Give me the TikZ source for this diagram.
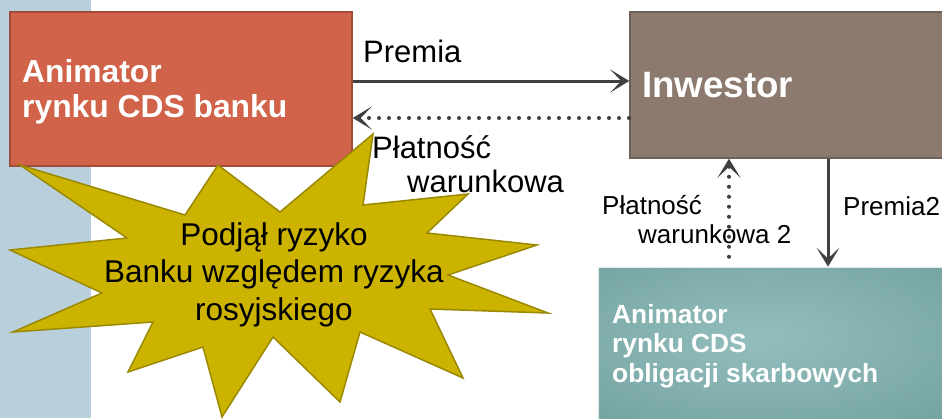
\documentclass[tikz,border=0pt]{standalone}
\usepackage{fontspec}
\setmainfont{Liberation Sans}
\usetikzlibrary{arrows.meta}
\definecolor{stripblue}{HTML}{B9D0DC}
\definecolor{bankred}{HTML}{D06349}
\definecolor{bankedge}{HTML}{A24B39}
\definecolor{invbrown}{HTML}{8C7A6F}
\definecolor{invedge}{HTML}{6F6058}
\definecolor{tealin}{HTML}{92BFBD}
\definecolor{tealout}{HTML}{6D9B99}
\definecolor{starfill}{HTML}{CCB300}
\definecolor{staredge}{HTML}{9A8900}
\definecolor{pilgray}{HTML}{404040}
\pgfdeclareradialshading{tealglow}{\pgfpoint{-3bp}{2bp}}{color(0bp)=(tealin); color(46bp)=(tealout); color(75bp)=(tealout)}

\begin{document}
\begin{tikzpicture}[x=1pt,y=-1pt,
    pil/.style={draw=pilgray,line width=3pt,-{Stealth[length=19pt,width=23pt,inset=11pt]}},
    dots/.style={line width=3.5pt,dash pattern=on 0.5pt off 9.5pt,line cap=round},
    boxtxt/.style={text=white,font=\bfseries\fontsize{31.8}{35}\selectfont,align=left,anchor=base west,inner sep=0pt},
    lbl/.style={font=\fontsize{31}{34}\selectfont,align=left,anchor=base west,inner sep=0pt},
    small/.style={font=\fontsize{26}{29}\selectfont,align=left,anchor=base west,inner sep=0pt}]
      \useasboundingbox (0,0) rectangle (942,418);
      \fill[white] (0,0) rectangle (942,418);
      \fill[stripblue] (0,0) rectangle (91,418);
      \node[draw=bankedge,fill=bankred,line width=1.5pt,minimum width=342pt,minimum height=154pt] (bank) at (181,89) {};
      \node[draw=invedge,fill=invbrown,line width=1.5pt,minimum width=330pt,minimum height=146pt] (inw) at (795,85) {};
      \node[shading=tealglow,draw=white!80!tealout,line width=0.8pt,minimum width=362pt,minimum height=152pt] (skarb) at (779,343) {};
      \draw[fill=starfill,draw=staredge,line width=1.5pt] (20,165) -- (185,215) -- (218,165) -- (280,212) -- (373,134) -- (363,205) -- (468,194) -- (427,233) -- (537,245) -- (448,275) -- (548,313) -- (430,309) -- (463,378) -- (360,332) -- (340,402) -- (273,337) -- (222,417) -- (203,347) -- (128,372) -- (153,322) -- (13,332) -- (102,293) -- (10,250) -- (127,238) -- cycle;
      \node[boxtxt] (banktxt) at (22,117) {Animator\\rynku CDS banku};
      \node[boxtxt,font=\bfseries\fontsize{36.7}{40}\selectfont] (inwtxt) at (642,97) {Inwestor};
      \node[boxtxt,font=\bfseries\fontsize{26.3}{29.5}\selectfont] (skarbtxt) at (612,382) {Animator\\rynku CDS\\obligacji skarbowych};
      \node[font=\fontsize{31.5}{37.5}\selectfont,align=center,anchor=base,inner sep=0pt] (ryzyko) at (274,320) {Podjął ryzyko\\Banku względem ryzyka\\rosyjskiego};
      \coordinate (w2) at (729,257);
      \draw[pil] (bank.east |- 0,81) -- (inw.west |- 0,81);
      \draw[pil,dots] (inw.west |- 0,118) -- (bank.east |- 0,118);
      \draw[pil,dots] (w2) -- (inw.south -| w2);
      \draw[pil] (inw.south -| 828,0) -- (skarb.north -| 828,0);
      \node[lbl] (premia) at (363,62) {Premia};
      \node[lbl] (platn) at (372,192) {Płatność\\\hspace*{35pt}warunkowa};
      \node[small] (platn2) at (602,243) {Płatność\\\hspace*{36pt}warunkowa 2};
      \node[small] (premia2) at (843,215) {Premia2};
\end{tikzpicture}
\end{document}
